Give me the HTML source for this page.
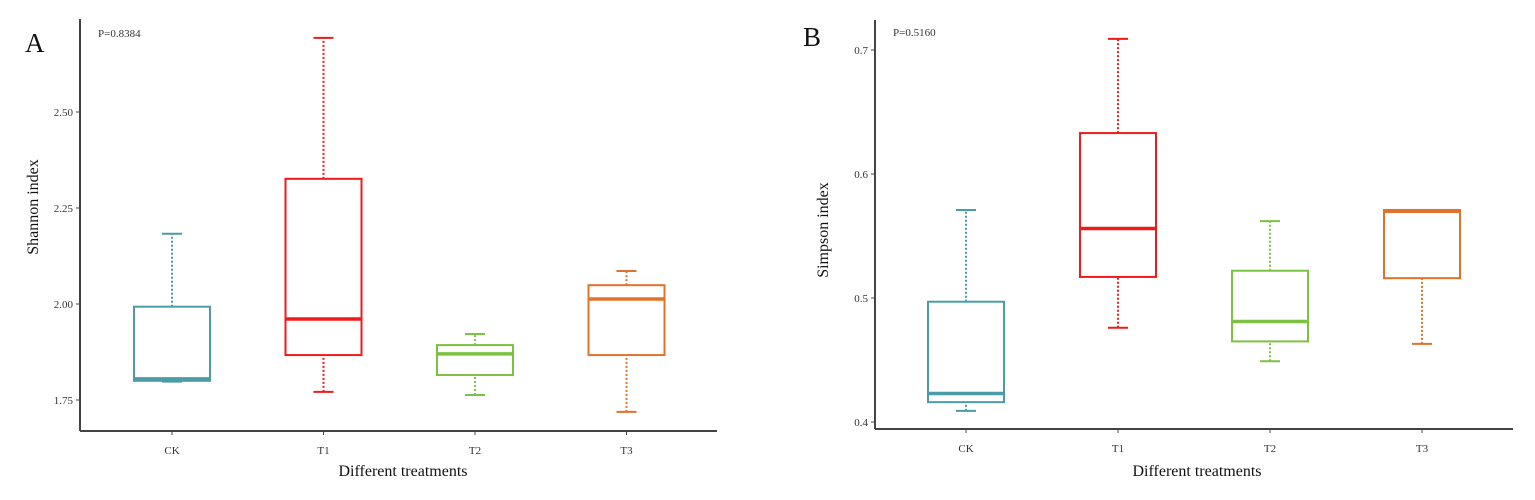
<!DOCTYPE html>
<html><head><meta charset="utf-8"><style>
html,body{margin:0;padding:0;background:#fff;}
svg{display:block;font-family:"Liberation Serif",serif;}
</style></head><body>
<svg id="chart" width="1535" height="500" viewBox="0 0 1535 500" xmlns="http://www.w3.org/2000/svg"></svg>
<script>
const categories = ["CK","T1","T2","T3"];
const colors = ["#4a9ca6","#f01a1a","#7cc242","#e0722c"];
// Shannon [lowerWhisker, Q1, median, Q3, upperWhisker]
const shannonCK = [1.798, 1.800, 1.805, 1.993, 2.183];
const shannonT1 = [1.771, 1.867, 1.961, 2.326, 2.693];
const shannonT2 = [1.763, 1.815, 1.870, 1.893, 1.922];
const shannonT3 = [1.719, 1.867, 2.013, 2.049, 2.086];
const shannonTicks = [1.75, 2.00, 2.25, 2.50];
const shannonTickLabels = ["1.75","2.00","2.25","2.50"];
// Simpson
const simpsonCK = [0.409, 0.416, 0.423, 0.497, 0.571];
const simpsonT1 = [0.476, 0.517, 0.556, 0.633, 0.709];
const simpsonT2 = [0.449, 0.465, 0.481, 0.522, 0.562];
const simpsonT3 = [0.463, 0.516, 0.570, 0.571, 0.571];
const simpsonTicks = [0.4, 0.5, 0.6, 0.7];
const simpsonTickLabels = ["0.4","0.5","0.6","0.7"];

const NS="http://www.w3.org/2000/svg";
const svg=document.getElementById('chart');
function mk(tag,attrs,parent,text){const e=document.createElementNS(NS,tag);for(const k in attrs)e.setAttribute(k,attrs[k]);if(text!==undefined)e.textContent=text;(parent||svg).appendChild(e);return e;}

function panel(cfg){
  const g=mk('g',{});
  
  
  const y=v=>cfg.y0+(v-cfg.v0)*(cfg.y1-cfg.y0)/(cfg.v1-cfg.v0);
  const x=i=>cfg.xc0+i*cfg.step;
  // axes
  const ya=mk('line',{x1:cfg.ax,y1:cfg.top,x2:cfg.ax,y2:cfg.bottom,stroke:'#444','stroke-width':2},g);
  
  const xa=mk('line',{x1:cfg.ax,y1:cfg.bottom,x2:cfg.right,y2:cfg.bottom,stroke:'#444','stroke-width':2},g);
  
  cfg.ticks.forEach((t,i)=>{
    mk('line',{x1:cfg.ax-4,x2:cfg.ax,y1:y(t),y2:y(t),stroke:'#444','stroke-width':1},g);
    const tl=mk('text',{x:cfg.ax-7,y:y(t)+4,'text-anchor':'end','font-size':11,fill:'#333'},g,cfg.tickLabels[i]);
    
  });
  categories.forEach((c,i)=>{
    mk('line',{x1:x(i),x2:x(i),y1:cfg.bottom,y2:cfg.bottom+4,stroke:'#444','stroke-width':1},g);
    const tl=mk('text',{x:x(i),y:cfg.bottom+23,'text-anchor':'middle','font-size':11,fill:'#333'},g,c);
    
    const d=cfg.data[i],col=colors[i],cx=x(i),hw=38;
    const bg=mk('g',{},g);
    
    mk('line',{x1:cx,x2:cx,y1:y(d[3]),y2:y(d[4]),stroke:col,'stroke-width':2,'stroke-dasharray':'2,2'},bg);
    mk('line',{x1:cx,x2:cx,y1:y(d[0]),y2:y(d[1]),stroke:col,'stroke-width':2,'stroke-dasharray':'2,2'},bg);
    mk('line',{x1:cx-10,x2:cx+10,y1:y(d[4]),y2:y(d[4]),stroke:col,'stroke-width':2},bg);
    mk('line',{x1:cx-10,x2:cx+10,y1:y(d[0]),y2:y(d[0]),stroke:col,'stroke-width':2},bg);
    mk('rect',{x:cx-hw,y:y(d[3]),width:2*hw,height:y(d[1])-y(d[3]),fill:'#fff',stroke:col,'stroke-width':2},bg);
    mk('line',{x1:cx-hw,x2:cx+hw,y1:y(d[2]),y2:y(d[2]),stroke:col,'stroke-width':3.5},bg);
  });
  const yt=mk('text',{x:0,y:0,'text-anchor':'middle','font-size':16,fill:'#111',transform:`translate(${cfg.ytx},${cfg.yty}) rotate(-90)`},g,cfg.ytitle);
  
  const xt=mk('text',{x:cfg.xtx,y:476,'text-anchor':'middle','font-size':16,fill:'#111'},g,'Different treatments');
  
  const p=mk('text',{x:cfg.ax+18,y:cfg.py,'font-size':11,fill:'#333'},g,cfg.p);
  
  const L=mk('text',{x:cfg.lx,y:cfg.ly,'font-size':27,fill:'#111'},g,cfg.letter);
  
}

panel({name:'panel-a-shannon',ax:80,top:19,bottom:431,right:717,v0:2.00,y0:304,v1:2.25,y1:208,
  xc0:172,step:151.5,data:[shannonCK,shannonT1,shannonT2,shannonT3],ticks:shannonTicks,tickLabels:shannonTickLabels,
  ytitle:'Shannon index',ytx:38,yty:207,xtx:403,p:'P=0.8384',py:37,letter:'A',lx:25,ly:52});
panel({name:'panel-b-simpson',ax:875,top:20,bottom:429,right:1513,v0:0.5,y0:298,v1:0.6,y1:174,
  xc0:966,step:152,data:[simpsonCK,simpsonT1,simpsonT2,simpsonT3],ticks:simpsonTicks,tickLabels:simpsonTickLabels,
  ytitle:'Simpson index',ytx:828,yty:230,xtx:1197,p:'P=0.5160',py:36,letter:'B',lx:803,ly:46});
</script>
</body></html>
